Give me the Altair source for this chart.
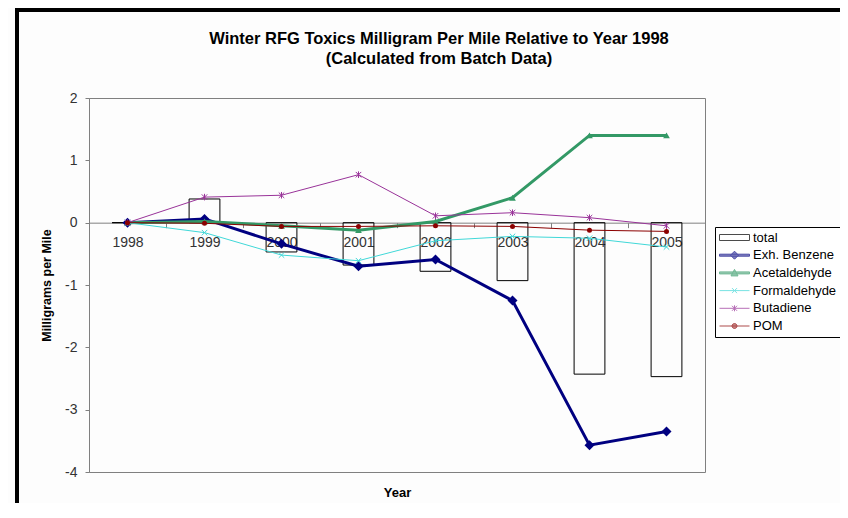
import altair as alt
import pandas as pd

years = ["1998", "1999", "2000", "2001", "2002", "2003", "2004", "2005"]
total = [0.0, 0.38, -0.47, -0.68, -0.78, -0.93, -2.43, -2.47]
exh_benzene = [0.0, 0.06, -0.34, -0.70, -0.59, -1.25, -3.57, -3.35]
acetaldehyde = [0.0, 0.02, -0.05, -0.12, 0.02, 0.40, 1.40, 1.40]
formaldehyde = [0.0, -0.16, -0.52, -0.61, -0.29, -0.22, -0.25, -0.39]
butadiene = [0.0, 0.41, 0.44, 0.77, 0.11, 0.16, 0.08, -0.05]
pom = [0.0, -0.01, -0.06, -0.06, -0.05, -0.06, -0.12, -0.14]

series_names = ["total", "Exh. Benzene", "Acetaldehyde", "Formaldehyde", "Butadiene", "POM"]
series_values = [exh_benzene, acetaldehyde, formaldehyde, butadiene, pom]

FONT = "Liberation Sans"
colors = {"Exh. Benzene": "#000080", "Acetaldehyde": "#339966", "Formaldehyde": "#40D8D8",
          "Butadiene": "#993399", "POM": "#8B0000"}
widths = {"Exh. Benzene": 3, "Acetaldehyde": 3, "Formaldehyde": 1, "Butadiene": 1, "POM": 1}
markers = {
    "Exh. Benzene": dict(shape="diamond", size=100, filled=True),
    "Acetaldehyde": dict(shape="triangle-up", size=45, filled=True),
    "Formaldehyde": dict(shape="M-1,-1L1,1M-1,1L1,-1", size=30, filled=False, strokeWidth=1),
    "Butadiene": dict(shape="M-1,-1L1,1M-1,1L1,-1M0,-1.2L0,1.2", size=30, filled=False, strokeWidth=1),
    "POM": dict(shape="circle", size=25, filled=True),
}
legend_paths = [
    "M-3,-0.6L3,-0.6L3,0.6L-3,0.6Z",
    "M-3,-0.2L3,-0.2L3,0.2L-3,0.2Z M-0.8,0L0,-0.8L0.8,0L0,0.8Z",
    "M-3,-0.2L3,-0.2L3,0.2L-3,0.2Z M-0.7,0.6L0,-0.7L0.7,0.6Z",
    "M-3,0L3,0 M-0.5,-0.5L0.5,0.5 M-0.5,0.5L0.5,-0.5",
    "M-3,0L3,0 M-0.5,-0.5L0.5,0.5 M-0.5,0.5L0.5,-0.5 M0,-0.6L0,0.6",
    "M-3,0L3,0 M-0.5,0A0.5,0.5 0 1,1 0.5,0A0.5,0.5 0 1,1 -0.5,0Z",
]

rows = []
for name, vals in zip(series_names[1:], series_values):
    for yr, v in zip(years, vals):
        rows.append({"year": yr, "series": name, "value": v})
df = pd.DataFrame(rows)
df_total = pd.DataFrame({"year": years, "value": total})
df_legend = pd.DataFrame({"series": series_names})
df_one = pd.DataFrame({"a": [0]})

x_axis = alt.Axis(title="Year", offset=-249.33, tickBand="extent", tickSize=5, tickColor="#808080",
                  domainColor="#808080", labelAngle=0, labelPadding=8, labelFont=FONT, labelFontSize=14,
                  labelColor="#333333", titleFont=FONT, titleFontSize=13, titleFontWeight="bold",
                  titleColor="black", titleY=274, titleBaseline="alphabetic")
x_enc = alt.X("year:N", scale=alt.Scale(type="band", domain=years, paddingInner=0, paddingOuter=0),
              axis=x_axis)
y_axis = alt.Axis(title="Milligrams per Mile", values=[-4, -3, -2, -1, 0, 1, 2], grid=False,
                  tickSize=4, tickColor="#808080", domainColor="#808080", labelPadding=8,
                  labelExpr="'' + datum.value", labelFont=FONT, labelFontSize=14, labelColor="#333333",
                  titleFont=FONT, titleFontSize=12.5, titleFontWeight="bold", titleColor="black",
                  titlePadding=11)
y_enc = alt.Y("value:Q", scale=alt.Scale(domain=[-4, 2], nice=False, zero=False), axis=y_axis)

bars = alt.Chart(df_total).mark_bar(fill="transparent", stroke="black", strokeWidth=1,
                                    width={"band": 0.4}).encode(x=x_enc, y=y_enc, y2=alt.datum(0))

layers = [bars]
for name in series_names[1:]:
    sub = alt.Chart(df).transform_filter(alt.datum.series == name)
    layers.append(sub.mark_line(color=colors[name], strokeWidth=widths[name]).encode(x=x_enc, y=y_enc))
    m = dict(markers[name])
    layers.append(sub.mark_point(color=colors[name], opacity=1, **m).encode(x=x_enc, y=y_enc))

legend = alt.Legend(title=None, orient="none", legendX=626, legendY=129, fillColor="white",
                    strokeColor="#000000", padding=4, symbolSize=100, symbolStrokeWidth=1,
                    symbolOffset=9, labelOffset=12, labelFont=FONT, labelFontSize=13,
                    labelColor="black", rowPadding=3.7)
fill_range = ["white"] + [colors[n] for n in series_names[1:]]
stroke_range = ["black"] + [colors[n] for n in series_names[1:]]
legend_layer = alt.Chart(df_legend).mark_point(filled=True, clip=True).encode(
    x=alt.value(0), y=alt.value(-5000),
    shape=alt.Shape("series:N", scale=alt.Scale(domain=series_names, range=legend_paths), legend=legend),
    fill=alt.Fill("series:N", scale=alt.Scale(domain=series_names, range=fill_range), legend=legend),
    stroke=alt.Stroke("series:N", scale=alt.Scale(domain=series_names, range=stroke_range), legend=legend),
)
layers.append(legend_layer)

frame_left = alt.Chart(df_one).mark_rule(color="black", strokeWidth=4).encode(
    x=alt.value(-72), y=alt.value(-90), y2=alt.value(430))
frame_top = alt.Chart(df_one).mark_rule(color="black", strokeWidth=4).encode(
    x=alt.value(-74), x2=alt.value(780), y=alt.value(-88))
layers += [frame_left, frame_top]

chart = alt.layer(*layers).properties(
    width=616, height=374,
    autosize=alt.AutoSizeParams(type="none"),
    padding={"left": 81, "top": 90, "right": 135, "bottom": 31},
    background="#fdfdfd",
    title=alt.TitleParams(text=["Winter RFG Toxics Milligram Per Mile Relative to Year 1998",
                                "(Calculated from Batch Data)"],
                          font=FONT, fontSize=16.5, fontWeight="bold", color="black",
                          anchor="middle", dx=42, offset=-61, lineHeight=19.5),
).configure_view(stroke="#808080", strokeWidth=1)

chart.save("out.html", embed_options={"renderer": "svg", "actions": False})
